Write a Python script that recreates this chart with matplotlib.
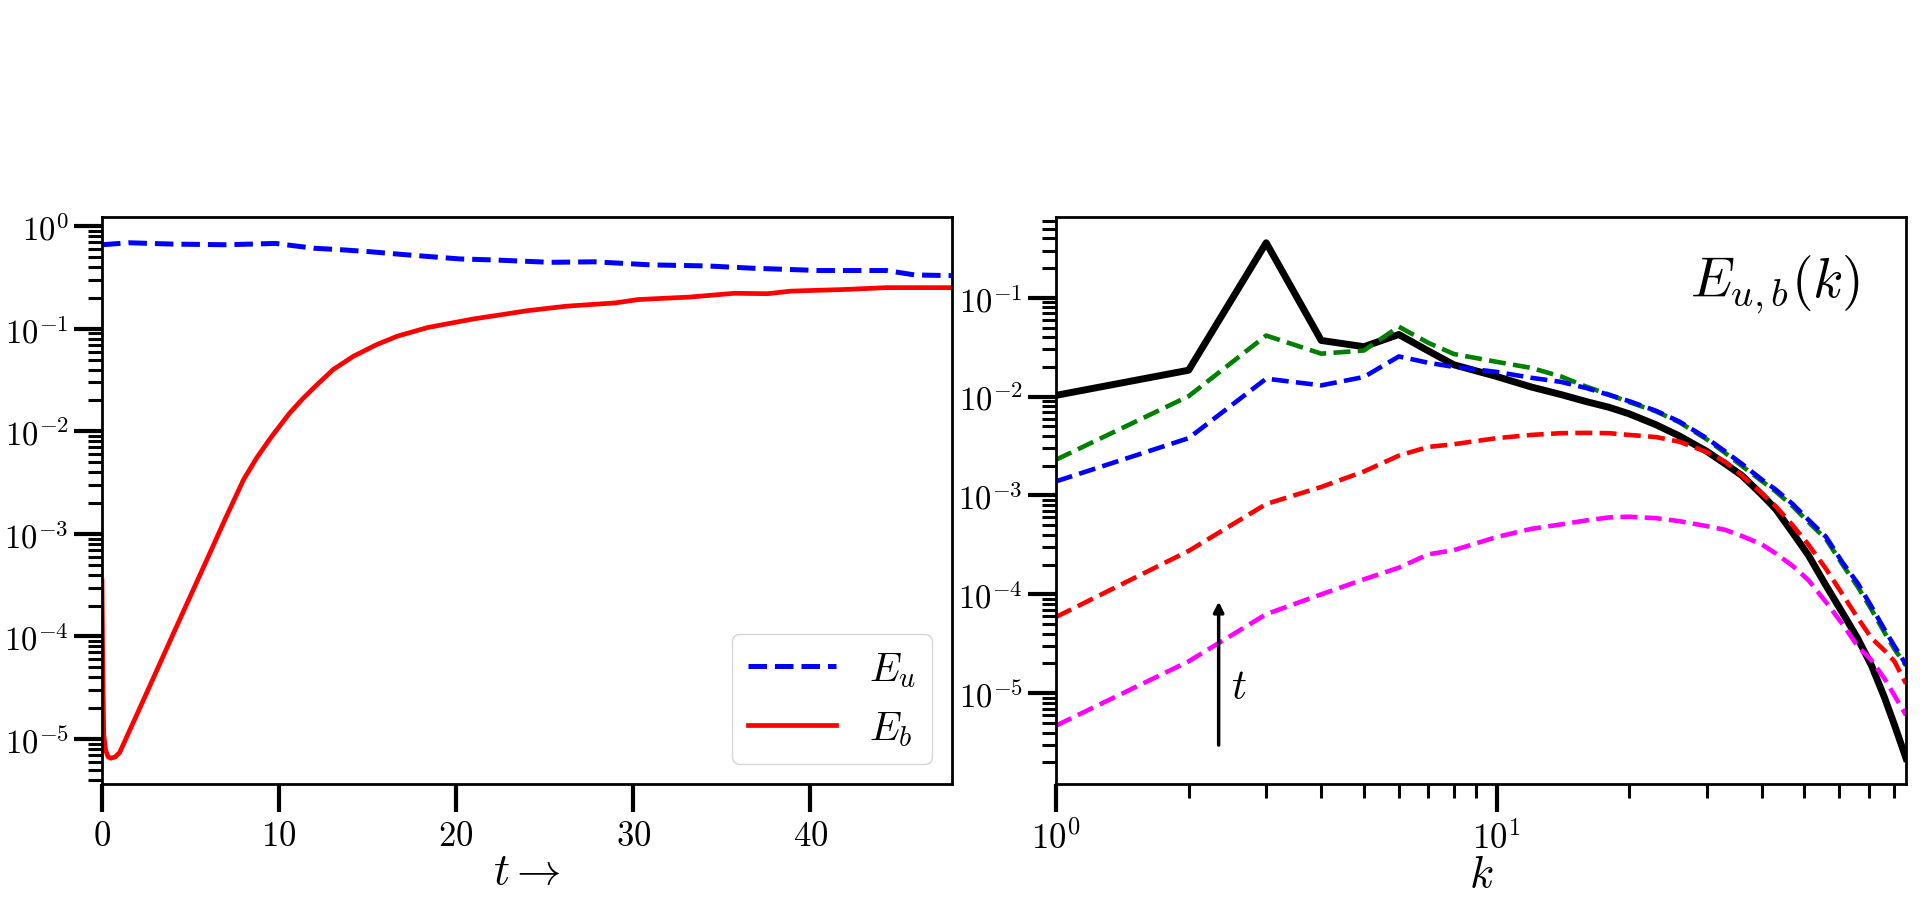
import numpy as np
import matplotlib
matplotlib.use('Agg')
import matplotlib.pyplot as plt
from matplotlib.ticker import NullFormatter

# Fonts: LaTeX-like look
plt.rcParams['font.family'] = 'serif'
plt.rcParams['font.serif'] = ['cmr10']
plt.rcParams['mathtext.fontset'] = 'cm'
plt.rcParams['axes.formatter.use_mathtext'] = True

# Left panel: energies vs time
t_u = [0, 1.5, 4, 7, 9.8, 11, 12, 13.5, 15.1, 17, 20.2, 22, 25.3, 27.8, 31, 34.2,
       36.7, 40.5, 44.3, 45.9, 48]
E_u = [0.66, 0.69, 0.67, 0.66, 0.68, 0.64, 0.61, 0.59, 0.565, 0.53, 0.48, 0.47,
       0.445, 0.45, 0.42, 0.41, 0.39, 0.37, 0.37, 0.335, 0.33]

t_b = [0, 0.03, 0.06, 0.1, 0.2, 0.35, 0.5, 0.75, 1.0, 1.5, 2, 3, 4, 5, 6, 7, 8,
       8.76, 9.6, 10.6, 11.3, 12, 13.05, 14.2, 15.5, 16.7, 18.4, 21, 22.4, 24, 26.2,
       29, 30.3, 33.2, 35.7, 37.6, 38.9, 42, 44.3, 48]
E_b = [3.5e-4, 9e-5, 3e-5, 1.1e-5, 7.8e-6, 6.7e-6, 6.5e-6, 6.7e-6, 7.4e-6, 1.15e-5,
       1.78e-5, 4.3e-5, 1.04e-4, 2.5e-4, 6.0e-4, 1.45e-3, 3.4e-3, 5.6e-3, 9.0e-3,
       0.0151, 0.0205, 0.027, 0.040, 0.054, 0.070, 0.085, 0.103, 0.125, 0.136,
       0.150, 0.166, 0.179, 0.193, 0.204, 0.222, 0.220, 0.233, 0.242, 0.252, 0.252]

# Right panel: spectra at several times
k = [1, 2, 3, 4, 5, 6, 7, 8, 10, 12, 14, 16, 18, 20, 23, 26, 30, 33, 36, 40, 43,
     47, 51, 56, 61, 66, 71, 76, 80, 85]
spec_black = [0.0103, 0.0185, 0.36, 0.037, 0.032, 0.0425, 0.029, 0.021, 0.016,
              0.0125, 0.0105, 0.0089, 0.0078, 0.0067, 0.0052, 0.0040, 0.0028,
              0.0021, 0.0016, 1.02e-3, 7.3e-4, 4.2e-4, 2.5e-4, 1.22e-4, 6.5e-5,
              3.6e-5, 1.9e-5, 9e-6, 4.8e-6, 2.2e-6]
spec_green = [2.3e-3, 0.0101, 0.0415, 0.0272, 0.0293, 0.051, 0.035, 0.027, 0.0225,
              0.0195, 0.016, 0.0126, 0.0105, 0.0088, 0.0071, 0.0055, 0.0037,
              0.0027, 0.0020, 1.4e-3, 1.1e-3, 7.8e-4, 5.4e-4, 3.6e-4, 2.0e-4,
              1.2e-4, 7e-5, 4.1e-5, 2.8e-5, 1.9e-5]
spec_blue = [1.39e-3, 3.8e-3, 0.0152, 0.013, 0.0158, 0.0255, 0.022, 0.020, 0.0178,
             0.0155, 0.0141, 0.0122, 0.0104, 0.0090, 0.0072, 0.0056, 0.0038,
             0.0028, 0.0021, 1.45e-3, 1.15e-3, 8.2e-4, 5.7e-4, 3.8e-4, 2.1e-4,
             1.3e-4, 7.5e-5, 4.4e-5, 3.0e-5, 1.95e-5]
spec_red = [5.9e-5, 2.75e-4, 8.2e-4, 1.22e-3, 1.75e-3, 2.53e-3, 3.1e-3, 3.3e-3,
            3.8e-3, 4.1e-3, 4.27e-3, 4.3e-3, 4.27e-3, 4.1e-3, 3.9e-3, 3.5e-3,
            2.75e-3, 2.2e-3, 1.6e-3, 1.05e-3, 7.8e-4, 5.0e-4, 3.2e-4, 1.8e-4,
            1.0e-4, 5.8e-5, 3.6e-5, 2.7e-5, 2.1e-5, 1.25e-5]
spec_magenta = [4.7e-6, 2.1e-5, 6.3e-5, 1.0e-4, 1.42e-4, 1.86e-4, 2.54e-4, 2.8e-4,
                3.8e-4, 4.6e-4, 5.1e-4, 5.6e-4, 6.0e-4, 6.1e-4, 5.9e-4, 5.5e-4,
                4.9e-4, 4.5e-4, 3.9e-4, 3.2e-4, 2.6e-4, 1.94e-4, 1.4e-4, 8.3e-5,
                5.0e-5, 3.0e-5, 2.15e-5, 1.4e-5, 9.5e-6, 6.0e-6]


def style_axes(ax):
    for s in ax.spines.values():
        s.set_linewidth(2)
    ax.tick_params(which='major', length=20, width=3)
    ax.tick_params(which='minor', length=10, width=2.2)
    ax.tick_params(axis='x', which='major', labelsize=25, pad=6)
    ax.tick_params(axis='y', which='major', labelsize=23.5, pad=4)


fig = plt.figure(figsize=(19.2, 9.03), dpi=100)
bottom = 1 - 785 / 903
height = 567 / 903
ax1 = fig.add_axes([102 / 1920, bottom, 850 / 1920, height])
ax2 = fig.add_axes([1056 / 1920, bottom, 850 / 1920, height])

# left panel
ax1.semilogy(t_u, E_u, '--', color='blue', lw=3.6, label=r'$E_u$')
ax1.semilogy(t_b, E_b, '-', color='red', lw=3.4, label=r'$E_b$')
ax1.set_xlim(0, 48)
ax1.set_xticks([0, 10, 20, 30, 40])
ax1.set_xlabel(r'$t \rightarrow$', fontsize=32, labelpad=0)
style_axes(ax1)
ax1.legend(loc='lower right', fontsize=29, handlelength=2.2)

# right panel
ax2.loglog(k, spec_black, '-', color='black', lw=5)
ax2.loglog(k, spec_green, '--', color='green', lw=3.3)
ax2.loglog(k, spec_blue, '--', color='blue', lw=3.3)
ax2.loglog(k, spec_red, '--', color='red', lw=3.3)
ax2.loglog(k, spec_magenta, '--', color='magenta', lw=3.3)
ax2.set_xlim(1, 85)
ax2.set_xlabel(r'$k$', fontsize=32, labelpad=0)
ax2.xaxis.set_minor_formatter(NullFormatter())
style_axes(ax2)
ax2.text(0.946, 0.861, r'$E_{u,b}(k)$', transform=ax2.transAxes,
         ha='right', va='baseline', fontsize=40)
ax2.annotate('', xy=(2.34, 9e-5), xytext=(2.34, 2.8e-6),
             arrowprops=dict(arrowstyle='-|>', lw=2.5, color='black',
                             mutation_scale=15))
ax2.text(2.5, 1.15e-5, r'$t$', fontsize=30, ha='left', va='center')

fig.savefig('out.png', dpi=100)
